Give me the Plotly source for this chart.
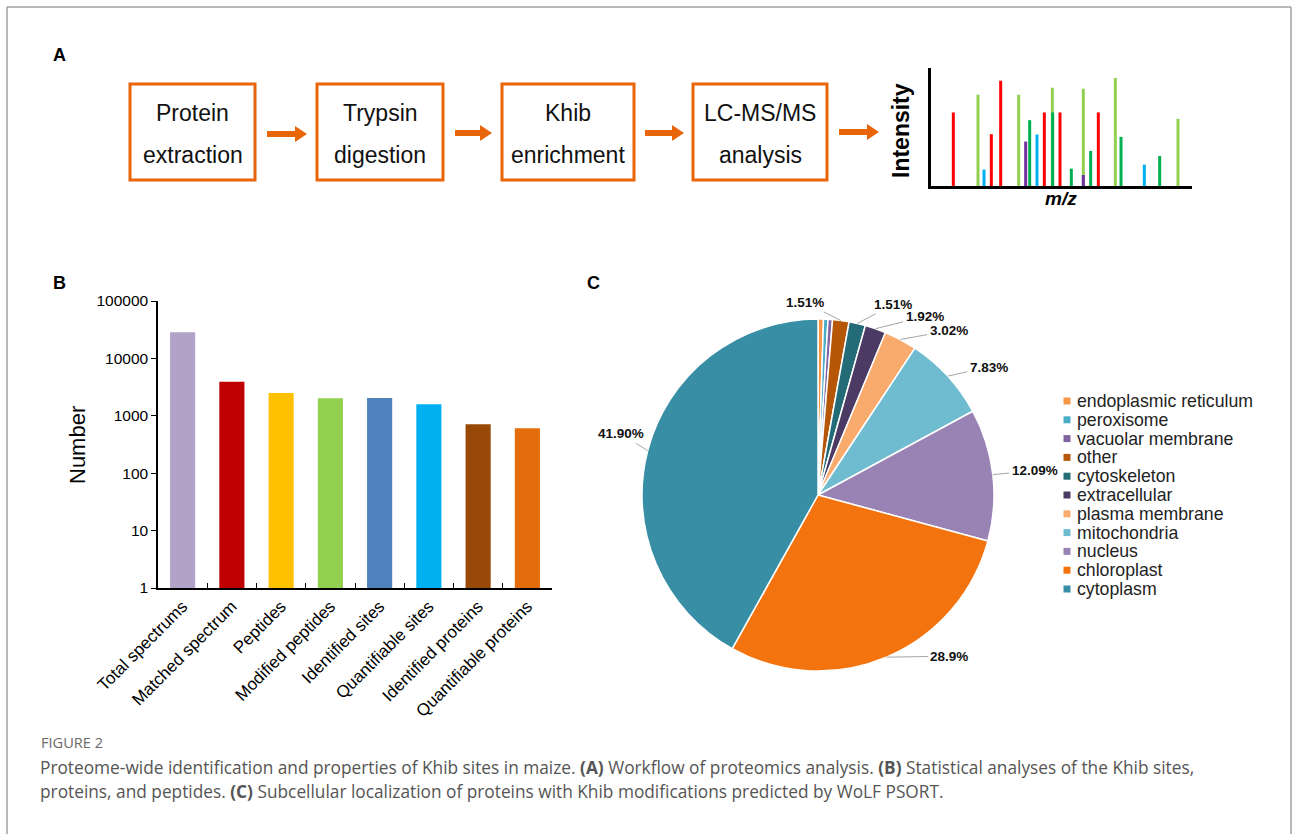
import math
import plotly.graph_objects as go

W, H = 1292, 834

# ---------------- data ----------------
step_line1 = ["Protein", "Trypsin", "Khib", "LC-MS/MS"]
step_line2 = ["extraction", "digestion", "enrichment", "analysis"]

peak_mz = [141, 263, 364, 457, 553, 741,
           67, 181, 209, 340, 387, 502,
           159, 318, 640,
           296, 365, 421, 479, 570, 686,
           284, 457]
peak_intensity = [273, 273, 294, 291, 323, 201,
                  220, 155, 315, 220, 220, 220,
                  49, 154, 64,
                  197, 220, 52, 105, 147, 90,
                  133, 33]
peak_color = ["#92d050"] * 6 + ["#ff0000"] * 6 + ["#00b0f0"] * 3 + ["#00b050"] * 6 + ["#7030a0"] * 2

bar_categories = ["Total spectrums", "Matched spectrum", "Peptides", "Modified peptides",
                  "Identified sites", "Quantifiable sites", "Identified proteins",
                  "Quantifiable proteins"]
bar_values = [28500, 3900, 2500, 2020, 2040, 1590, 710, 605]
bar_colors = ["#b3a2c7", "#c00000", "#ffc000", "#92d050", "#4f81bd", "#00b0f0",
              "#984807", "#e46c0a"]
y_tickvals = [1, 10, 100, 1000, 10000, 100000]
y_ticktext = ["1", "10", "100", "1000", "10000", "100000"]

pie_labels = ["endoplasmic reticulum", "peroxisome", "vacuolar membrane", "other",
              "cytoskeleton", "extracellular", "plasma membrane", "mitochondria",
              "nucleus", "chloroplast", "cytoplasm"]
pie_values = [0.50, 0.41, 0.41, 1.51, 1.51, 1.92, 3.02, 7.83, 12.09, 28.9, 41.90]
pie_text = ["", "", "", "1.51%", "1.51%", "1.92%", "3.02%", "7.83%", "12.09%", "28.9%", "41.90%"]
pie_colors = ["#f79646", "#4bacc6", "#8064a2", "#b65708", "#246b78", "#4b3a63",
              "#f9ab6e", "#6fbcd0", "#9983b5", "#f3740e", "#378ea5"]

caption_title = "FIGURE 2"
caption_lines = [
    "Proteome-wide identification and properties of Khib sites in maize. <b>(A)</b> Workflow of proteomics analysis. <b>(B)</b> Statistical analyses of the Khib sites,",
    "proteins, and peptides. <b>(C)</b> Subcellular localization of proteins with Khib modifications predicted by WoLF PSORT.",
]

# ---------------- helpers ----------------
def px(x):
    return x / W


def py(y):
    return 1 - y / H


FONT = "Liberation Sans, Arial, sans-serif"
ORANGE = "#e8650a"

fig = go.Figure()

# ---------------- panel A: spectrum ----------------
for col in ["#92d050", "#ff0000", "#00b0f0", "#00b050", "#7030a0"]:
    xs, ys = [], []
    for m, h, c in zip(peak_mz, peak_intensity, peak_color):
        if c == col:
            xs += [m, m, None]
            ys += [0, h, None]
    fig.add_trace(go.Scatter(x=xs, y=ys, mode="lines", line=dict(color=col, width=3),
                             xaxis="x2", yaxis="y2", showlegend=False, hoverinfo="skip"))

# ---------------- panel B: bars ----------------
fig.add_trace(go.Bar(x=bar_categories, y=bar_values, marker=dict(color=bar_colors, line=dict(width=0)),
                     width=0.51, xaxis="x", yaxis="y", showlegend=False))

# ---------------- panel C: pie ----------------
pie_x0, pie_x1, pie_top, pie_bot = 642, 994, 319, 671
fig.add_trace(go.Pie(labels=pie_labels, values=pie_values, sort=False, direction="clockwise",
                     rotation=0, textinfo="none", showlegend=False, automargin=False,
                     marker=dict(colors=pie_colors, line=dict(color="white", width=1.5)),
                     domain=dict(x=[px(pie_x0), px(pie_x1)], y=[py(pie_bot), py(pie_top)])))

layout_annotations = []
shapes = []

# pie labels with leader lines
cx, cy = (pie_x0 + pie_x1) / 2, (pie_top + pie_bot) / 2
R = (pie_x1 - pie_x0) / 2
label_offsets = {3: (-36, -18), 4: (36, -19), 5: (49, -12), 6: (48, -9), 7: (41, -9),
                 8: (42, -4), 9: (63, -1), 10: (-27, -17)}
total = sum(pie_values)
cum = 0
for i, v in enumerate(pie_values):
    mid = (cum + v / 2) / total * 2 * math.pi
    cum += v
    if not pie_text[i]:
        continue
    ex = cx + R * math.sin(mid)
    ey = cy - R * math.cos(mid)
    ax, ay = label_offsets[i]
    layout_annotations.append(dict(
        x=px(ex), y=py(ey), xref="paper", yref="paper", text="<b>%s</b>" % pie_text[i],
        showarrow=True, arrowhead=0, arrowwidth=1, arrowcolor="#a6a6a6", ax=ax, ay=ay,
        standoff=0, startstandoff=1, font=dict(family=FONT, size=13.5, color="#111")))

# manual legend for the pie
for k, (lab, col) in enumerate(zip(pie_labels, pie_colors)):
    yk = 401 + k * 18.8
    shapes.append(dict(type="rect", xref="paper", yref="paper", x0=px(1063.5), x1=px(1070.5),
                       y0=py(yk + 3.5), y1=py(yk - 3.5), fillcolor=col, line=dict(width=0)))
    layout_annotations.append(dict(x=px(1075), y=py(yk), xref="paper", yref="paper", text=lab,
                                   showarrow=False, xanchor="left", yanchor="middle",
                                   font=dict(family=FONT, size=17.7, color="#222")))

# workflow boxes
box_x = [(130, 255), (317, 443), (502, 634), (693, 827)]
for (x0, x1), t1, t2 in zip(box_x, step_line1, step_line2):
    shapes.append(dict(type="rect", xref="paper", yref="paper", x0=px(x0), x1=px(x1),
                       y0=py(180), y1=py(84), line=dict(color=ORANGE, width=3),
                       fillcolor="white"))
    xc = (x0 + x1) / 2
    layout_annotations.append(dict(x=px(xc), y=py(113), xref="paper", yref="paper", text=t1,
                                   showarrow=False, xanchor="center", yanchor="middle",
                                   font=dict(family=FONT, size=23, color="#111")))
    layout_annotations.append(dict(x=px(xc), y=py(155), xref="paper", yref="paper", text=t2,
                                   showarrow=False, xanchor="center", yanchor="middle",
                                   font=dict(family=FONT, size=23, color="#111")))

# arrows
arrow_x = [(267, 307), (455, 492), (645, 684), (839, 879)]
arrow_y = [134, 133, 133, 132]
for (a0, a1), ay_ in zip(arrow_x, arrow_y):
    shapes.append(dict(type="line", xref="paper", yref="paper", x0=px(a0), x1=px(a1 - 11),
                       y0=py(ay_), y1=py(ay_), line=dict(color=ORANGE, width=6)))
    shapes.append(dict(type="path", xref="paper", yref="paper",
                       path="M %f %f L %f %f L %f %f Z" % (px(a1 - 12), py(ay_ - 8), px(a1), py(ay_),
                                                           px(a1 - 12), py(ay_ + 8)),
                       fillcolor=ORANGE, line=dict(width=0)))

# spectrum labels
layout_annotations.append(dict(x=px(901), y=py(130), xref="paper", yref="paper", text="<b>Intensity</b>",
                               showarrow=False, textangle=-90, xanchor="center", yanchor="middle",
                               font=dict(family=FONT, size=23, color="#000")))
layout_annotations.append(dict(x=px(1061), y=py(199), xref="paper", yref="paper", text="<b><i>m/z</i></b>",
                               showarrow=False, xanchor="center", yanchor="middle",
                               font=dict(family=FONT, size=19, color="#000")))

# panel letters
for letter, lx, ly in [("A", 59, 55), ("B", 59, 283), ("C", 593, 283)]:
    layout_annotations.append(dict(x=px(lx), y=py(ly), xref="paper", yref="paper", text="<b>%s</b>" % letter,
                                   showarrow=False, xanchor="center", yanchor="middle",
                                   font=dict(family=FONT, size=18, color="#000")))

# bar y-axis title
layout_annotations.append(dict(x=px(77), y=py(445), xref="paper", yref="paper", text="Number",
                               showarrow=False, textangle=-90, xanchor="center", yanchor="middle",
                               font=dict(family=FONT, size=22, color="#000")))

# caption
layout_annotations.append(dict(x=px(39), y=py(742), xref="paper", yref="paper", text=caption_title,
                               showarrow=False, xanchor="left", yanchor="middle",
                               font=dict(family="Open Sans, sans-serif", size=14.6, color="#6b6b6b")))
for j, line in enumerate(caption_lines):
    layout_annotations.append(dict(x=px(38), y=py(767 + j * 24), xref="paper", yref="paper", text=line,
                                   showarrow=False, xanchor="left", yanchor="middle",
                                   font=dict(family="Open Sans, sans-serif", size=17.3, color="#555")))

# outer frame
frame = "#a0a0a0"
shapes += [
    dict(type="line", xref="paper", yref="paper", x0=px(7), x1=px(7), y0=py(7), y1=py(834), line=dict(color=frame, width=1.5)),
    dict(type="line", xref="paper", yref="paper", x0=px(7), x1=px(1291), y0=py(7), y1=py(7), line=dict(color=frame, width=1.5)),
    dict(type="line", xref="paper", yref="paper", x0=px(1291), x1=px(1291), y0=py(7), y1=py(834), line=dict(color=frame, width=1.5)),
]

fig.update_layout(
    width=W, height=H, autosize=False,
    margin=dict(l=0, r=0, t=0, b=0, pad=0),
    paper_bgcolor="white", plot_bgcolor="rgba(0,0,0,0)",
    font=dict(family=FONT, color="#000"),
    showlegend=False,
    xaxis=dict(domain=[px(158), px(552)], range=[-0.5, 7.5], type="category",
               showline=True, linecolor="#000", linewidth=1.5, ticks="inside", ticklen=5,
               tickwidth=1.2, tickcolor="#000", tickson="boundaries", tickangle=-45,
               tickfont=dict(family=FONT, size=17, color="#000"), showgrid=False, zeroline=False,
               anchor="y", fixedrange=True, automargin=False),
    yaxis=dict(domain=[py(588), py(301)], type="log", range=[0, 5], tickvals=y_tickvals,
               ticktext=y_ticktext, showline=True, linecolor="#000", linewidth=1.5, ticks="outside",
               ticklen=5, tickwidth=1.2, tickcolor="#000",
               tickfont=dict(family=FONT, size=15.5, color="#000"), showgrid=False, zeroline=False,
               anchor="x", fixedrange=True, automargin=False),
    xaxis2=dict(domain=[px(931), px(1192)], range=[0, 783], showline=True, linecolor="#000",
                linewidth=3, showticklabels=False, ticks="", showgrid=False, zeroline=False,
                anchor="y2", fixedrange=True, automargin=False),
    yaxis2=dict(domain=[py(186), py(68)], range=[0, 353], showline=True, linecolor="#000",
                linewidth=3, showticklabels=False, ticks="", showgrid=False, zeroline=False,
                anchor="x2", fixedrange=True, automargin=False),
    annotations=layout_annotations,
    shapes=shapes,
)

fig.write_html("out.html", config={"displayModeBar": False},
               post_script="document.body.style.margin='0';")
